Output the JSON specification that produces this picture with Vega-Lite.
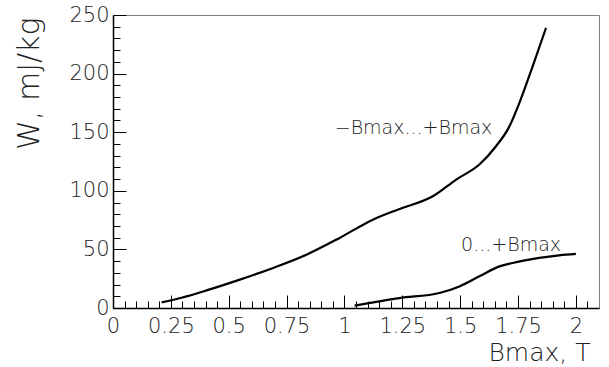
{
  "$schema": "https://vega.github.io/schema/vega-lite/v6.json",
  "width": 486,
  "height": 293,
  "autosize": {"type": "none"},
  "padding": {"left": 113, "top": 15, "right": 10, "bottom": 59},
  "background": "white",
  "config": {
    "view": {"stroke": "#808080", "strokeWidth": 1},
    "axis": {
      "grid": false,
      "labelFont": "DejaVu Sans",
      "titleFont": "DejaVu Sans",
      "labelFontWeight": 200,
      "titleFontWeight": 200,
      "labelColor": "#222",
      "titleColor": "#222",
      "tickColor": "#000",
      "domainColor": "#000",
      "zindex": 1
    }
  },
  "resolve": {"axis": {"x": "independent", "y": "independent"}, "scale": {"x": "shared", "y": "shared"}},
  "datasets": {
    "curves": [
      {"series": "full", "B": 0.21, "W": 4.8},
      {"series": "full", "B": 0.30, "W": 9.0},
      {"series": "full", "B": 0.404, "W": 15.0},
      {"series": "full", "B": 0.548, "W": 24.2},
      {"series": "full", "B": 0.692, "W": 34.2},
      {"series": "full", "B": 0.836, "W": 45.5},
      {"series": "full", "B": 0.979, "W": 59.8},
      {"series": "full", "B": 1.123, "W": 75.4},
      {"series": "full", "B": 1.238, "W": 84.5},
      {"series": "full", "B": 1.382, "W": 95.3},
      {"series": "full", "B": 1.483, "W": 109.6},
      {"series": "full", "B": 1.583, "W": 122.4},
      {"series": "full", "B": 1.655, "W": 138.0},
      {"series": "full", "B": 1.713, "W": 155.0},
      {"series": "full", "B": 1.756, "W": 175.0},
      {"series": "full", "B": 1.813, "W": 206.0},
      {"series": "full", "B": 1.871, "W": 239.0},
      {"series": "half", "B": 1.044, "W": 2.0},
      {"series": "half", "B": 1.238, "W": 8.5},
      {"series": "half", "B": 1.41, "W": 12.8},
      {"series": "half", "B": 1.497, "W": 18.4},
      {"series": "half", "B": 1.583, "W": 27.0},
      {"series": "half", "B": 1.67, "W": 35.5},
      {"series": "half", "B": 1.727, "W": 38.4},
      {"series": "half", "B": 1.842, "W": 42.7},
      {"series": "half", "B": 1.928, "W": 44.9},
      {"series": "half", "B": 2.0, "W": 46.1}
    ],
    "labels": [
      {"B": 0.958, "W": 154, "label": "−Bmax...+Bmax"},
      {"B": 1.504, "W": 54, "label": "0...+Bmax"}
    ]
  },
  "layer": [
    {
      "data": {"name": "curves"},
      "mark": {"type": "line", "color": "black", "strokeWidth": 2.2, "interpolate": "monotone"},
      "encoding": {
        "x": {
          "field": "B", "type": "quantitative",
          "scale": {"domain": [0, 2.1], "nice": false, "zero": false},
          "axis": {
            "orient": "bottom",
            "values": [0, 0.25, 0.5, 0.75, 1, 1.25, 1.5, 1.75, 2],
            "format": ".3~g",
            "tickSize": -13,
            "tickWidth": 1,
            "labelPadding": 20,
            "labelFontSize": 21,
            "labelFlush": false,
            "domainWidth": 1.5,
            "title": "Bmax, T",
            "titleFontSize": 25,
            "titleAnchor": "end",
            "titleAlign": "right",
            "titleBaseline": "middle",
            "titleX": 477,
            "titleY": 44
          }
        },
        "y": {
          "field": "W", "type": "quantitative",
          "scale": {"domain": [0, 250], "nice": false, "zero": false},
          "axis": {
            "orient": "left",
            "values": [0, 50, 100, 150, 200, 250],
            "tickSize": -13,
            "tickWidth": 1,
            "labelPadding": 17,
            "labelFontSize": 21,
            "labelFlush": false,
            "domainWidth": 1.5,
            "title": "W, mJ/kg",
            "titleFontSize": 30,
            "titleAngle": -90,
            "titleAnchor": "end",
            "titleAlign": "right",
            "titleBaseline": "middle",
            "titleX": -84,
            "titleY": 2
          }
        },
        "detail": {"field": "series"}
      }
    },
    {
      "data": {"name": "labels"},
      "mark": {"type": "text", "align": "left", "baseline": "middle", "fontSize": 19, "font": "DejaVu Sans", "fontWeight": 200, "color": "#222"},
      "encoding": {
        "x": {
          "field": "B", "type": "quantitative",
          "axis": {
            "orient": "bottom",
            "values": [0.05, 0.1, 0.15, 0.2, 0.3, 0.35, 0.4, 0.45, 0.55, 0.6, 0.65, 0.7, 0.8, 0.85, 0.9, 0.95, 1.05, 1.1, 1.15, 1.2, 1.3, 1.35, 1.4, 1.45, 1.55, 1.6, 1.65, 1.7, 1.8, 1.85, 1.9, 1.95, 2.05],
            "tickSize": -7,
            "tickWidth": 1,
            "labels": false,
            "domain": false,
            "title": null
          }
        },
        "y": {
          "field": "W", "type": "quantitative",
          "axis": {
            "orient": "left",
            "values": [10, 20, 30, 40, 60, 70, 80, 90, 110, 120, 130, 140, 160, 170, 180, 190, 210, 220, 230, 240],
            "tickSize": -7,
            "tickWidth": 1,
            "labels": false,
            "domain": false,
            "title": null
          }
        },
        "text": {"field": "label"}
      }
    }
  ]
}
